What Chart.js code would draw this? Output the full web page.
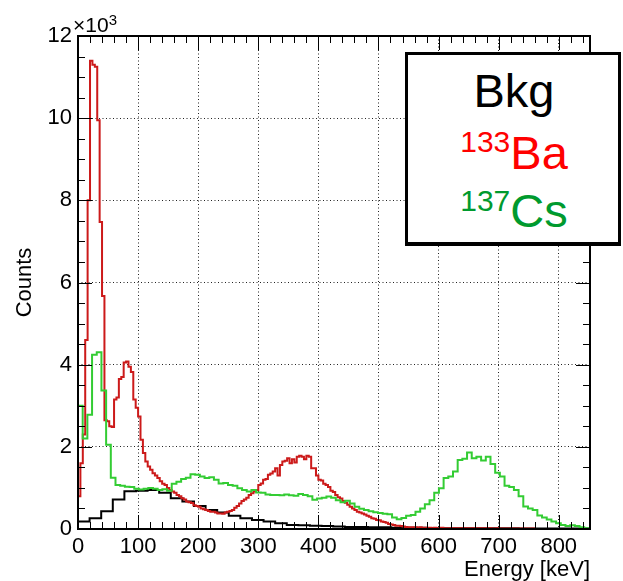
<!DOCTYPE html>
<html><head><meta charset="utf-8">
<script src="https://cdn.jsdelivr.net/npm/chart.js@4.4.1/dist/chart.umd.min.js"></script>
<style>
html,body{margin:0;padding:0;background:#fff;}
#wrap{position:relative;width:623px;height:581px;overflow:hidden;font-family:'Liberation Sans',Arial,sans-serif;}
#c{position:absolute;left:0;top:0;}
.t{position:absolute;white-space:nowrap;}
#mult{left:73px;top:14px;font-size:21px;line-height:21px;color:#000;}
#mult span{position:relative;top:-7px;font-size:15px;}
#box{position:absolute;left:405px;top:52px;width:210px;height:187px;border:3px solid #000;border-bottom-width:4px;background:#fff;}
.lg{left:407px;width:214px;text-align:center;font-size:47px;line-height:47px;}
.lg span{position:relative;font-size:30px;}
</style>
</head><body>
<div id="wrap">
<canvas id="c" width="623" height="581"></canvas>
<div id="mult" class="t">&times;10<span>3</span></div>
<div id="box"></div>
<div class="t lg" style="top:66.9px;color:#000;">Bkg</div>
<div class="t lg" style="top:128.5px;color:#ff0000;"><span style="top:-16.6px">133</span>Ba</div>
<div class="t lg" style="top:186.9px;color:#009a2e;"><span style="top:-16px">137</span>Cs</div>
</div>
<script>
// ---- data (counts in units of 10^3) ----
const xTickValues = [0,100,200,300,400,500,600,700,800];
const yTickValues = [0,2,4,6,8,10,12];
const seriesNames = ['Bkg','133Ba','137Cs'];

const bkgBinKeV = 19.3;
const bkgCounts = [
 0.18,0.26,0.43,0.72,0.92,0.93,0.95,0.88,0.75,0.67,
 0.56,0.46,0.40,0.32,0.26,0.22,0.18,0.14,0.10,0.09,
 0.08,0.07,0.06,0.05,0.05,0.04,0.04,0.03,0.03,0.03,
 0.02,0.02,0.02,0.02,0.02,0.02,0.02,0.02,0.01,0.01,
 0.01,0.01,0.01,0.01];

const baBinKeV = 4.0;
const baCounts = [
 0.8,1.6,2.3,4.6,8.0,11.4,11.3,11.25,9.95,7.47,
 5.67,2.65,2.62,2.5,2.48,3.15,3.2,3.65,3.7,4.05,
 4.08,3.95,3.82,3.15,2.95,2.74,2.17,1.85,1.64,1.52,
 1.44,1.36,1.30,1.24,1.16,1.10,1.07,1.00,0.95,0.91,
 0.88,0.83,0.80,0.75,0.72,0.67,0.65,0.63,0.58,0.56,
 0.54,0.50,0.48,0.46,0.44,0.42,0.42,0.40,0.38,0.38,
 0.37,0.40,0.42,0.44,0.46,0.52,0.56,0.62,0.68,0.72,
 0.76,0.83,0.87,0.91,0.95,1.07,1.11,1.20,1.22,1.32,
 1.35,1.40,1.48,1.30,1.56,1.64,1.66,1.72,1.60,1.70,
 1.62,1.76,1.78,1.76,1.70,1.78,1.76,1.48,1.48,1.30,
 1.20,1.18,1.10,1.07,1.02,0.93,0.90,0.83,0.77,0.74,
 0.68,0.64,0.59,0.54,0.50,0.46,0.42,0.40,0.38,0.35,
 0.32,0.30,0.26,0.25,0.22,0.21,0.18,0.17,0.15,0.12,
 0.11,0.10,0.08,0.08,0.07,0.06,0.05,0.04,0.04,0.04,
 0.04,0.03,0.04,0.03,0.03,0.03,0.03,0.02,0.03,0.02,
 0.02,0.03,0.02,0.02,0.02,0.02,0.02,0.02,0.02,0.02,
 0.02,0.02,0.02,0.01,0.02,0.02,0.01,0.02,0.01,0.02,
 0.01,0.02,0.01,0.01,0.02,0.01,0.01,0.01,0.01,0.01,
 0.01,0.01,0.01,0.01,0.01,0.01,0.01,0.01,0.01,0.01];

const csBinKeV = 7.8;
const csCounts = [
 3.0,2.2,2.78,4.24,4.3,3.37,2.05,1.25,1.07,1.05,
 1.03,1.02,0.98,0.96,0.98,1.0,0.98,0.95,0.97,0.93,
 1.1,1.15,1.22,1.25,1.33,1.32,1.28,1.24,1.26,1.2,
 1.11,1.12,1.07,1.05,0.99,0.95,0.91,0.95,0.89,0.88,
 0.84,0.83,0.83,0.82,0.84,0.82,0.81,0.85,0.83,0.80,
 0.71,0.74,0.76,0.79,0.76,0.70,0.65,0.69,0.62,0.54,
 0.49,0.46,0.43,0.41,0.39,0.37,0.36,0.28,0.24,0.27,
 0.32,0.34,0.42,0.50,0.60,0.70,0.88,0.99,1.24,1.28,
 1.40,1.68,1.71,1.86,1.72,1.76,1.67,1.76,1.58,1.37,
 1.28,1.05,1.02,0.95,0.80,0.55,0.50,0.46,0.33,0.28,
 0.23,0.18,0.14,0.10,0.07,0.09,0.07,0.04,0.02];

// histogram outline points (bin low edges) for a stepped line
function histPoints(binWidth, counts){
  const pts = [{x:0, y:0}];
  counts.forEach((c,i)=>pts.push({x:i*binWidth, y:c}));
  pts.push({x:counts.length*binWidth, y:0});
  return pts;
}

const FONT = "'Liberation Sans', Arial, sans-serif";

const frameTicks = {
  id:'frameTicks',
  afterDatasetsDraw(chart){
    const {ctx, chartArea:a, scales:{x,y}} = chart;
    ctx.save();
    ctx.strokeStyle = '#000';
    ctx.lineWidth = 1;
    ctx.beginPath();
    for(let i=0;i*20<=x.max;i++){
      const px = Math.round(x.getPixelForValue(i*20))+0.5;
      const len = (i%5===0)?14:7;
      ctx.moveTo(px,a.bottom); ctx.lineTo(px,a.bottom-len);
      ctx.moveTo(px,a.top); ctx.lineTo(px,a.top+len);
    }
    for(let i=0;i*0.5<=y.max;i++){
      const py = Math.round(y.getPixelForValue(i*0.5))+0.5;
      const len = (i%4===0)?14:7;
      ctx.moveTo(a.left,py); ctx.lineTo(a.left+len,py);
      ctx.moveTo(a.right,py); ctx.lineTo(a.right-len,py);
    }
    ctx.stroke();
    ctx.lineWidth = 2;
    ctx.strokeRect(a.left, a.top, a.right-a.left, a.bottom-a.top);
    ctx.restore();
  }
};

new Chart(document.getElementById('c'), {
  type:'line',
  data:{
    datasets:[
      {label:seriesNames[0], data:histPoints(bkgBinKeV,bkgCounts), borderColor:'#000000', order:3},
      {label:seriesNames[1], data:histPoints(baBinKeV,baCounts), borderColor:'#cc1a1a', order:2},
      {label:seriesNames[2], data:histPoints(csBinKeV,csCounts), borderColor:'#33cc33', order:1}
    ]
  },
  options:{
    responsive:false, animation:false, devicePixelRatio:1,
    layout:{padding:{left:0,right:33,top:36,bottom:0}},
    plugins:{legend:{display:false}, tooltip:{enabled:false}},
    elements:{point:{radius:0}, line:{borderWidth:2, tension:0, stepped:true, fill:false}},
    scales:{
      x:{type:'linear', min:0, max:852,
         afterBuildTicks(s){ s.ticks = xTickValues.map(v=>({value:v})); },
         ticks:{padding:5, font:{size:22,family:FONT}, color:'#000', maxRotation:0, autoSkip:false},
         grid:{drawTicks:false, color:'#222', lineWidth:1},
         border:{display:false, dash:[1,2.5]},
         title:{display:true, text:'Energy [keV]', align:'end', font:{size:22,family:FONT}, color:'#000', padding:{bottom:-2}},
         afterFit(s){ s.height = 52; }
      },
      y:{type:'linear', min:0, max:12,
         afterBuildTicks(s){ s.ticks = yTickValues.map(v=>({value:v})); },
         ticks:{padding:6, font:{size:22,family:FONT}, color:'#000'},
         grid:{drawTicks:false, color:'#222', lineWidth:1},
         border:{display:false, dash:[1,2.5]},
         title:{display:true, text:'Counts', font:{size:22,family:FONT}, color:'#000', padding:{top:12}},
         afterFit(s){ s.width = 78; }
      }
    }
  },
  plugins:[frameTicks]
});
</script>
</body></html>
